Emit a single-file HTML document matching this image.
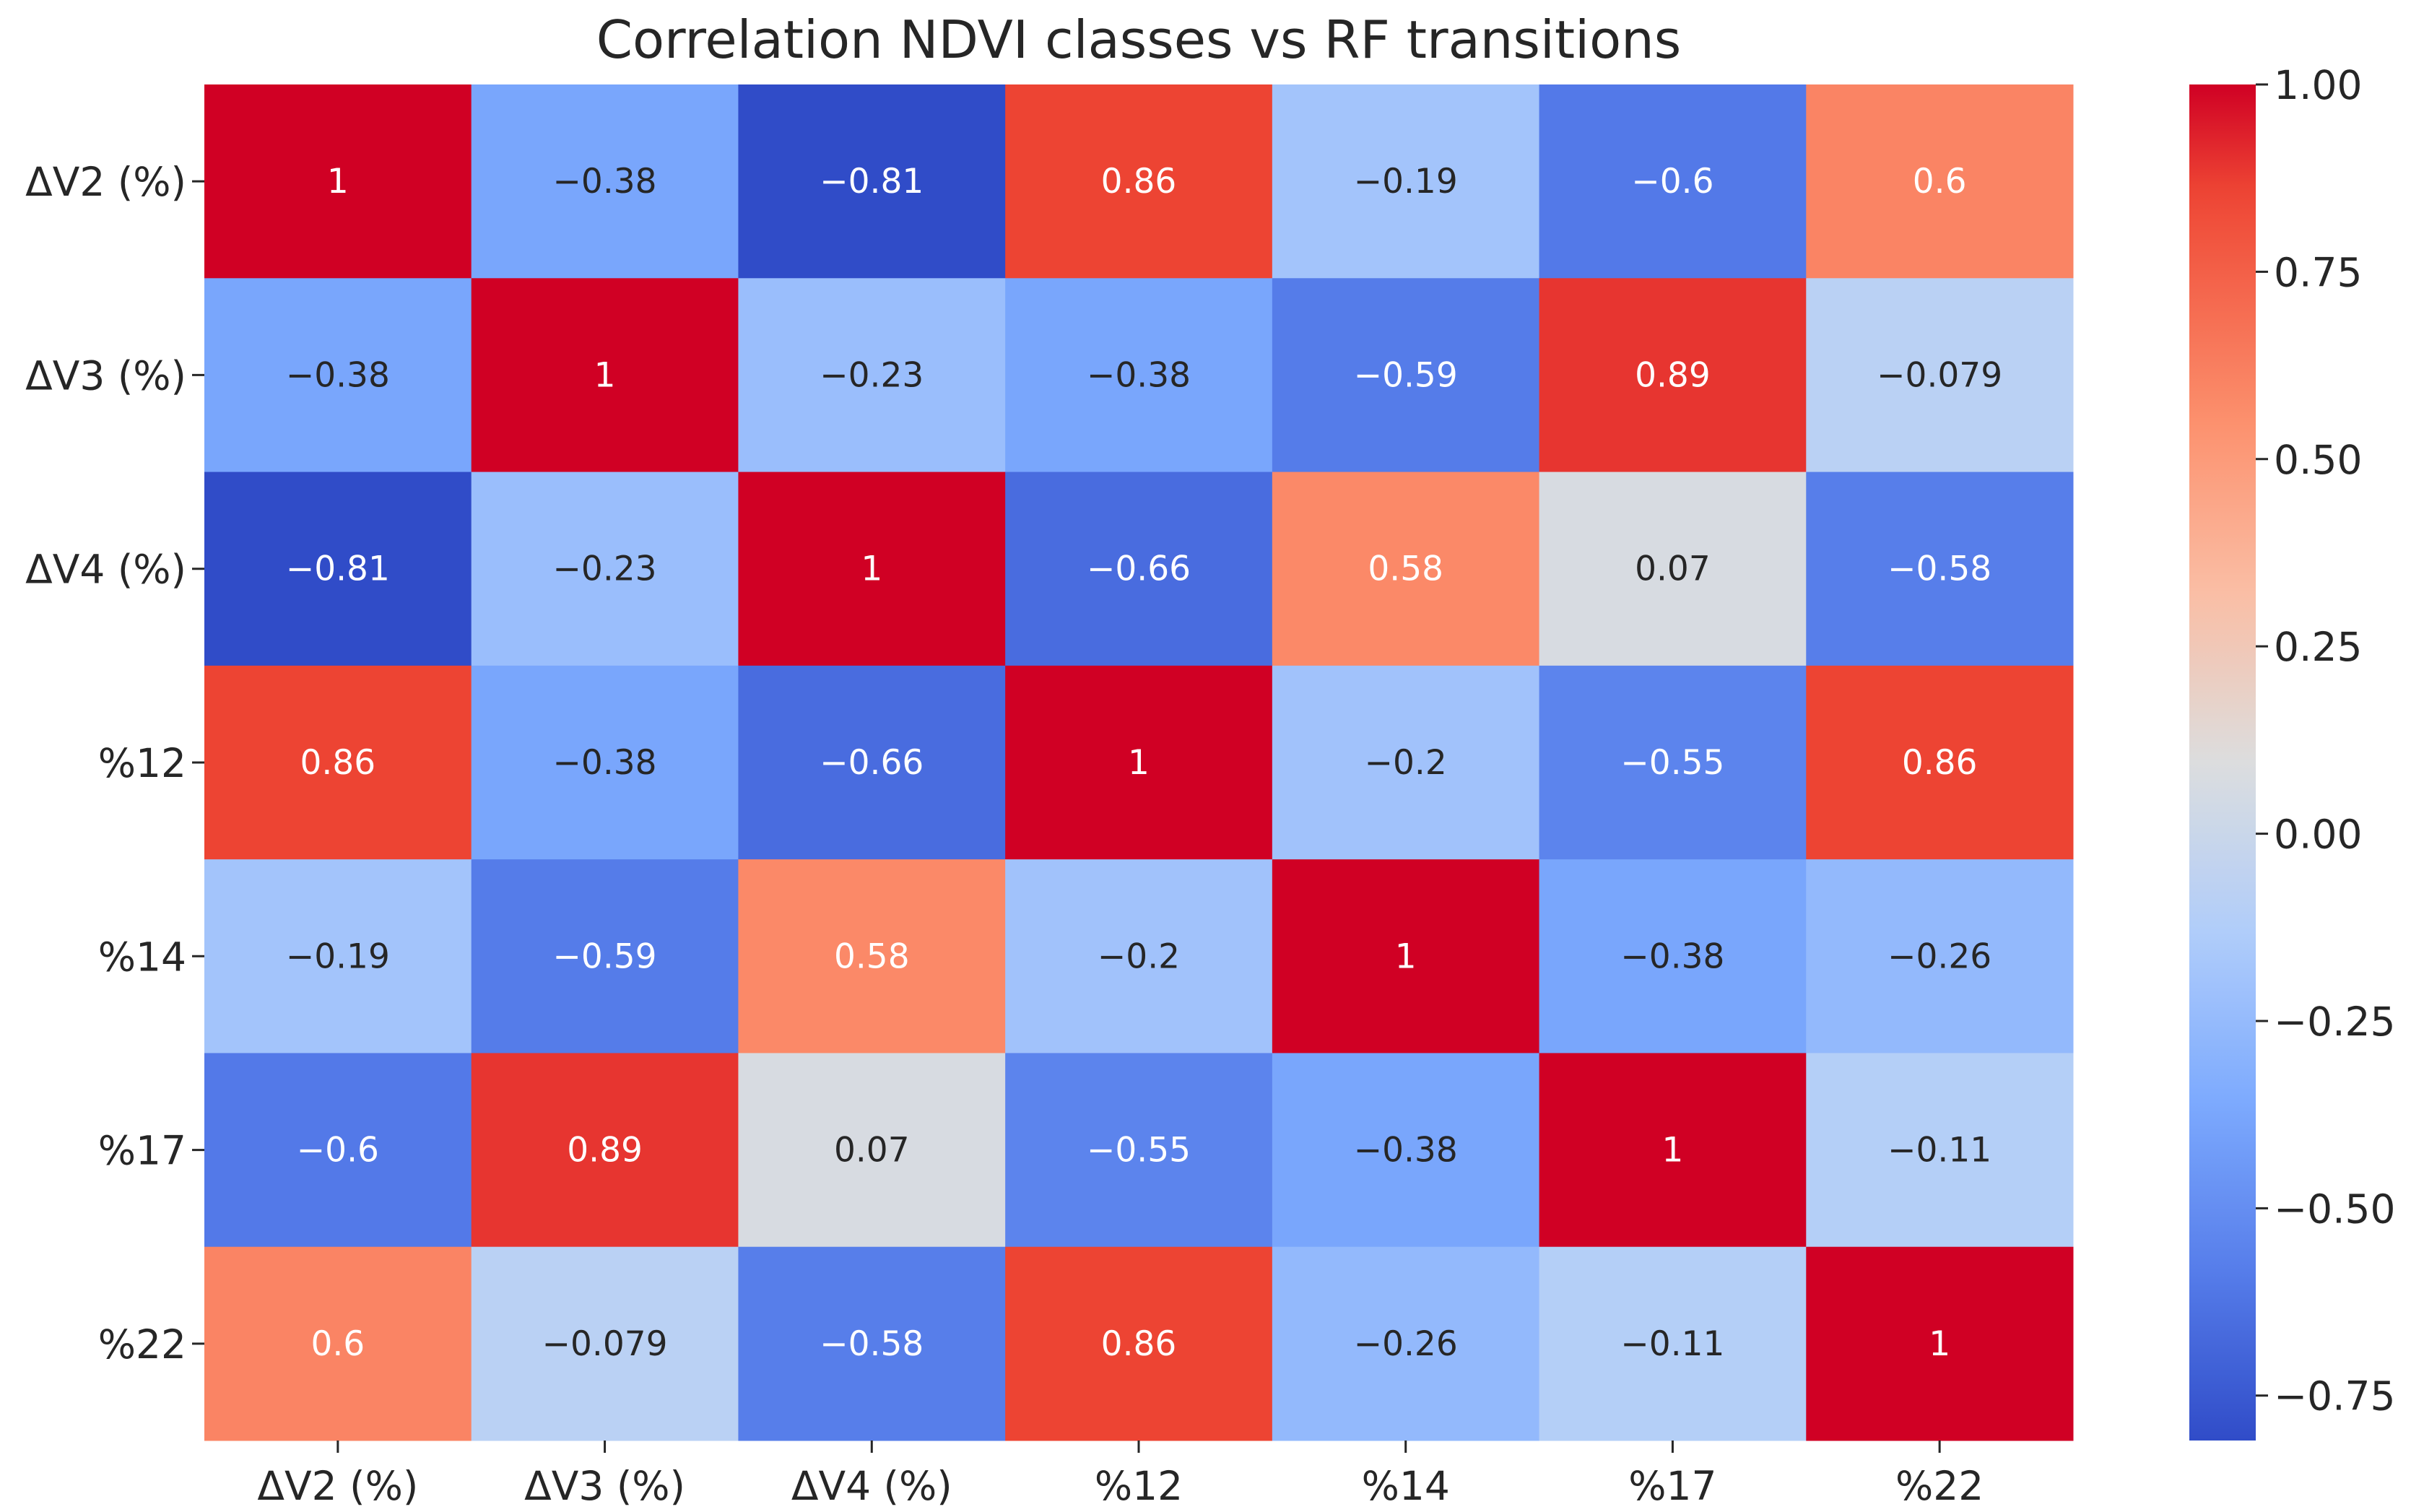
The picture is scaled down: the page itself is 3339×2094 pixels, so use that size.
<!DOCTYPE html>
<html><head><meta charset="utf-8"><style>
html,body{margin:0;padding:0;background:#fff;}
svg{display:block;font-family:"DejaVu Sans","Liberation Sans",sans-serif;}
</style></head><body>
<svg id="chart" width="3339" height="2094" viewBox="0 0 3339 2094" xmlns="http://www.w3.org/2000/svg">
<text x="1577" y="80" font-size="72" text-anchor="middle" fill="#262626">Correlation NDVI classes vs RF transitions</text>
<g id="cells"></g><g id="ylabels"></g><g id="xlabels"></g>
<defs><linearGradient id="cbgrad" x1="0" y1="1" x2="0" y2="0"></linearGradient></defs>
<g id="colorbar"></g>
</svg>
<script>
const categories = ["ΔV2 (%)","ΔV3 (%)","ΔV4 (%)","%12","%14","%17","%22"];
const row0 = [1,-0.38,-0.81,0.86,-0.19,-0.6,0.6];
const row1 = [-0.38,1,-0.23,-0.38,-0.59,0.89,-0.079];
const row2 = [-0.81,-0.23,1,-0.66,0.58,0.07,-0.58];
const row3 = [0.86,-0.38,-0.66,1,-0.2,-0.55,0.86];
const row4 = [-0.19,-0.59,0.58,-0.2,1,-0.38,-0.26];
const row5 = [-0.6,0.89,0.07,-0.55,-0.38,1,-0.11];
const row6 = [0.6,-0.079,-0.58,0.86,-0.26,-0.11,1];
const cbTicks = [1.00,0.75,0.50,0.25,0.00,-0.25,-0.50,-0.75];
const vmin = -0.81, vmax = 1;

const matrix=[row0,row1,row2,row3,row4,row5,row6];
const NS="http://www.w3.org/2000/svg";
const X0=283,X1=2871,Y0=117,Y1=1995;
const cw=(X1-X0)/categories.length, ch=(Y1-Y0)/categories.length;
const xPos=i=>X0+i*cw, yPos=i=>Y0+i*ch;
const stops=[[0,[48,76,200]],[0.125,[86,125,234]],[0.25,[125,170,254]],[0.375,[176,205,250]],[0.5,[220,221,222]],[0.625,[250,190,165]],[0.75,[252,145,110]],[0.92,[238,70,52]],[1,[208,0,36]]];
function cmap(v){let t=(v-vmin)/(vmax-vmin);t=Math.max(0,Math.min(1,t));
 for(let i=1;i<stops.length;i++){if(t<=stops[i][0]){const a=stops[i-1],b=stops[i];const f=(t-a[0])/(b[0]-a[0]);
 return `rgb(${a[1].map((c,k)=>Math.round(c+(b[1][k]-c)*f)).join(',')})`;}}return "rgb(208,0,36)";}
function el(tag,attrs,parent){const e=document.createElementNS(NS,tag);for(const k in attrs)e.setAttribute(k,attrs[k]);parent.appendChild(e);return e;}
const cells=document.getElementById('cells');
matrix.forEach((row,r)=>row.forEach((v,c)=>{
 const rect=el('rect',{x:xPos(c),y:yPos(r),width:cw+0.5,height:ch+0.5,fill:cmap(v)},cells);
 
 
 const t=el('text',{x:xPos(c)+cw/2,y:yPos(r)+ch/2+16,'font-size':47,'text-anchor':'middle',fill:Math.abs(v)>=0.5?'#fff':'#262626'},cells);
 t.textContent=String(v).replace('-','−');
 
 
}));
const yl=document.getElementById('ylabels'),xl=document.getElementById('xlabels');
categories.forEach((c,i)=>{
 const ty=yPos(i)+ch/2;
 el('line',{x1:X0-17,x2:X0,y1:ty,y2:ty,stroke:'#262626','stroke-width':3},yl);
 const t=el('text',{x:X0-25,y:ty+20,'font-size':55,'text-anchor':'end',fill:'#262626'},yl);
 t.textContent=c;
 
 
 const tx=xPos(i)+cw/2;
 el('line',{x1:tx,x2:tx,y1:Y1,y2:Y1+17,stroke:'#262626','stroke-width':3},xl);
 const u=el('text',{x:tx,y:Y1+82,'font-size':55,'text-anchor':'middle',fill:'#262626'},xl);
 u.textContent=c;
 
 
});
const grad=document.getElementById('cbgrad');
for(let i=0;i<=40;i++){const v=vmin+(vmax-vmin)*i/40;el('stop',{offset:(i/40),'stop-color':cmap(v)},grad);}
const cb=document.getElementById('colorbar');
const CBX=3032,CBW=92;
const cbY=v=>Y1-(v-vmin)/(vmax-vmin)*(Y1-Y0);
const bar=el('rect',{x:CBX,y:Y0,width:CBW,height:Y1-Y0,fill:'url(#cbgrad)'},cb);


cbTicks.forEach(v=>{const y=cbY(v);
 el('line',{x1:CBX+CBW,x2:CBX+CBW+17,y1:y,y2:y,stroke:'#262626','stroke-width':3},cb);
 const t=el('text',{x:CBX+CBW+25,y:y+20,'font-size':55,fill:'#262626'},cb);
 t.textContent=v.toFixed(2).replace('-','−');
 
 
});
</script>
</body></html>
